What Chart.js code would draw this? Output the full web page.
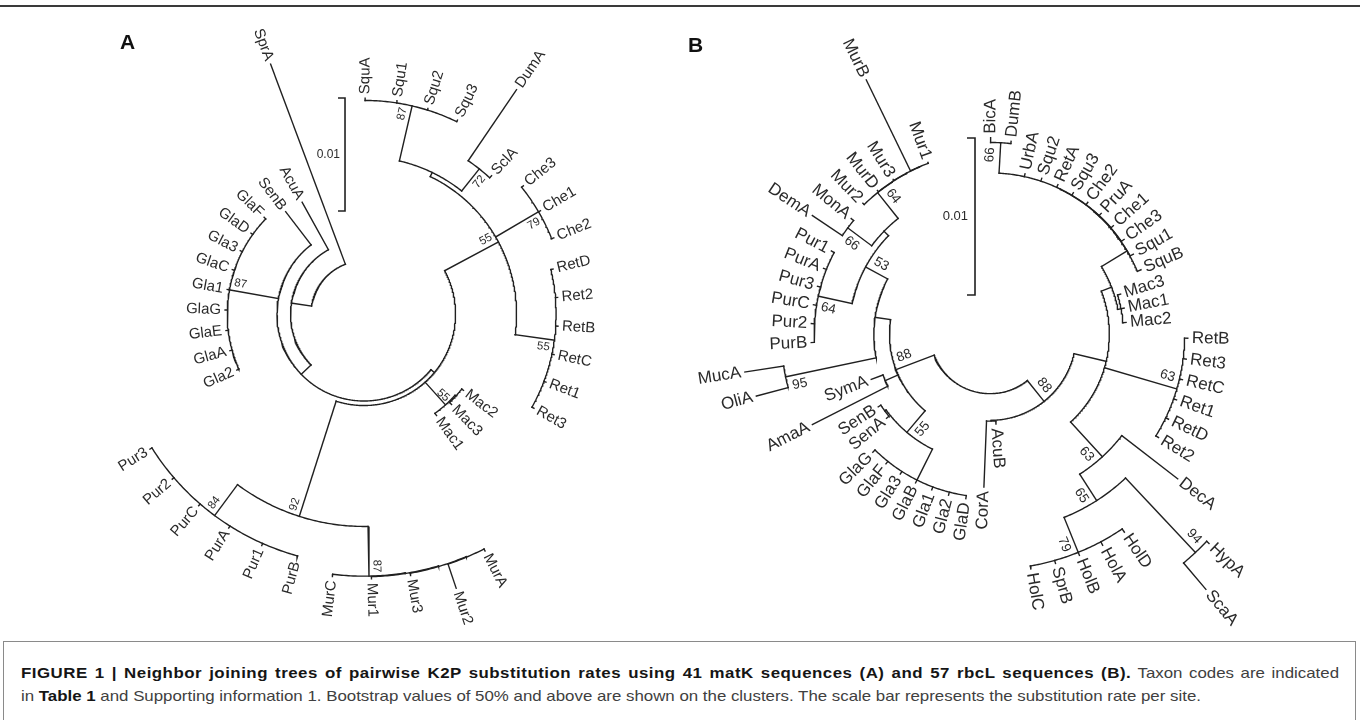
<!DOCTYPE html>
<html>
<head>
<meta charset="utf-8">
<title>Neighbor joining trees (matK / rbcL)</title>
<script src="https://cdn.jsdelivr.net/npm/chart.js@4.4.1/dist/chart.umd.min.js"></script>
<style>
  html, body { margin:0; padding:0; background:#fff; }
  body { width:1360px; height:720px; position:relative; overflow:hidden; font-family:"Liberation Sans", Arial, sans-serif; }
  #rule { position:absolute; left:0; top:5px; width:1360px; height:2px; background:#3a3a3a; }
  .panel { position:absolute; top:0; width:680px; height:640px; }
  #panelA { left:0; }
  #panelB { left:680px; }
  .tag { position:absolute; font-weight:bold; font-size:21px; color:#111; line-height:1; }
  #capbox { position:absolute; left:3px; top:641px; width:1351px; height:80px; border:1px solid #8a8a8a; border-bottom:none; }
  .cl { position:absolute; left:17px; white-space:nowrap; font-size:15px; line-height:1; color:#404040; transform-origin:0 50%; }
  .cl b { color:#151515; }
  #cap1 b { letter-spacing:0.45px; }
</style>
</head>
<body>
<div id="rule"></div>
<div class="panel" id="panelA"><canvas id="treeA" width="680" height="640"></canvas></div>
<div class="panel" id="panelB"><canvas id="treeB" width="680" height="640"></canvas></div>
<div class="tag" style="left:120px;top:31px;">A</div>
<div class="tag" style="left:688px;top:34px;">B</div>
<div id="capbox">
  <div class="cl" id="cap1" style="top:23px;"><b>FIGURE 1 | Neighbor joining trees of pairwise K2P substitution rates using 41 matK sequences (A) and 57 rbcL sequences (B).</b> Taxon codes are indicated</div>
  <div class="cl" id="cap2" style="top:46px;">in <b>Table 1</b> and Supporting information 1. Bootstrap values of 50% and above are shown on the clusters. The scale bar represents the substitution rate per site.</div>
</div>
<script>
// ======================= DATA =======================
// Distances are measured from the tree centre, in units of 0.001 substitutions per site.
const SCALE_BAR_VALUE = 0.01;

// ---- Tree A : 41 matK sequences (leaves in circular order) ----
const leavesA = ["SprA","AcuA","SenB","GlaF","GlaD","Gla3","GlaC","Gla1","GlaG","GlaE","GlaA","Gla2",
  "Pur3","Pur2","PurC","PurA","Pur1","PurB","MurC","Mur1","Mur3","Mur2","MurA","Mac1","Mac3","Mac2",
  "Ret3","Ret1","RetC","RetB","Ret2","RetD","Che2","Che1","Che3","SclA","DumA","Squ3","Squ2","Squ1","SquA"];
const leafParentA = ["r0","r1","r2","gla","gla","gla","gla","gla","gla","gla","gla","gla",
  "pur","pur","pur","pur","pur","pur","mur","mur1","mur2","mur3","mur3","mac","mac2","mac2",
  "ret","ret","ret","ret","ret","ret","che","che","che","d72","d72","squ","squ","squ","squ"];
const leafDistA = [23.6,11.3,11.4,12.3,12.3,12.3,12.3,12.3,12.3,12.3,12.3,12.3,
  22.4,22.4,22.4,22.4,22.4,22.4,23.4,23.45,23.5,25.6,23.55,11.05,11.15,11.1,
  17.2,17.2,17.2,17.2,17.2,17.2,18.1,18.1,18.1,16.65,24.0,19.05,19.05,19.1,19.1];
const nodesA      = ["r0","r1","r2","r3","gla","p92","pur","mur","mur1","mur2","mur3","mac","mac2","y","ret","che","x","d72","squ"];
const nodeParentA = [null,"r0","r1","r2","r2","r3","p92","p92","mur","mur1","mur2","r3","mac","r3","y","y","y","x","x"];
const nodeDistA   = [4.7,6.5,7.7,8.1,12.1,18.8,22.2,23.2,23.25,23.3,23.35,10.8,10.9,13.5,17.0,17.9,13.9,16.4,18.9];
const bootNodesA  = ["gla","p92","pur","mur","mac2","y","ret","che","d72","squ"];
const bootValuesA = [87,92,84,87,55,55,55,79,72,87];

// ---- Tree B : 57 rbcL sequences (leaves in circular order) ----
const leavesB = ["Mur1","MurB","Mur3","MurD","Mur2","MonA","DemA","Pur1","PurA","Pur3","PurC","Pur2","PurB",
  "MucA","OliA","SymA","AmaA","SenB","SenA","GlaG","GlaF","Gla3","GlaB","Gla1","Gla2","GlaD","CorA","AcuB",
  "HolC","SprB","HolB","HolA","HolD","ScaA","HypA","DecA","Ret2","RetD","Ret1","RetC","Ret3","RetB",
  "Mac2","Mac1","Mac3","SquB","Squ1","Che3","Che1","PruA","Che2","Squ3","RetA","Squ2","UrbA","DumB","BicA"];
const leafParentB = ["mur1n","mur1n","mur2n","mur3n","mur4","md66","md66","pur","pur","pur","pur","pur","pur",
  "n95","n95","sa","sa","sen","sen","gla","gla","gla","gla","gla","gla","gla","ca","ca",
  "hol","hol","hol","hol","hol","hs94","hs94","h63","ret","ret","ret","ret","ret","ret",
  "mac","mac","mac","u4","u3","u2","u1","u1","u1","u1","u1","u1","u1","bd66","bd66"];
const leafDistB = [11.62,18.0,11.62,11.62,11.62,11.5,13.6,11.4,11.4,11.4,11.4,11.4,11.4,
  15.8,15.4,8.1,12.7,8.5,8.5,10.6,10.6,10.6,10.6,10.6,10.6,10.6,9.75,5.75,
  15.2,15.2,15.2,15.25,15.25,21.3,19.3,15.1,12.6,12.6,12.6,12.6,12.6,12.6,
  8.7,8.7,8.7,10.45,10.45,10.45,10.45,10.45,10.45,10.45,10.45,10.45,10.45,12.35,12.5];
const nodesB      = ["root","l2","l1","n53b","n53a","mur4","mur3n","mur2n","mur1n","md66","pur","n95","sa","sg","sen","gla",
  "r88","ca","x350","h63","h65","hol","hs94","ret","m1","mac","u4","u3","u2","u1","bd66"];
const nodeParentB = [null,"root","l2","l1","n53b","n53a","mur4","mur3n","mur2n","n53a","n53b","l1","l2","l2","sg","sg",
  "root","r88","r88","x350","h63","h65","h65","x350","x350","m1","m1","u4","u3","u2","u1"];
const nodeDistB   = [3.8,6.4,7.4,9.0,9.4,11.5,11.52,11.54,11.56,11.3,11.2,13.3,7.3,8.2,8.3,10.4,
  5.5,5.55,7.6,10.6,12.6,15.0,19.1,12.4,8.3,8.5,10.2,10.22,10.24,10.26,12.2];
const bootNodesB  = ["l2","n53b","mur4","md66","pur","n95","sg","r88","h63","h65","hol","hs94","ret","bd66"];
const bootValuesB = [88,53,64,66,64,95,55,88,63,65,79,94,63,66];

// ======================= LAYOUT / STYLE =======================
const LINE = "#202020", TEXT = "#2a2a2a";
const styleA = {
  pxPerUnit: 11.3, centre: [364, 314], startDeg: 110.5, stepDeg: 8.48,
  leafFont: "15px 'Liberation Sans', Arial, sans-serif", bootFont: "11.5px 'Liberation Sans', Arial, sans-serif",
  barFont: "12px 'Liberation Sans', Arial, sans-serif", leafGap: 4, bootDr: 10, bootDt: 8, lw: 1.4,
  bar: { x: -1.68, yLow: 9.12, tickPx: 7, textGap: 5 },
  bootSide: { gla:-1, p92:-1, pur:-1, mur:1, mac2:-1, y:1, ret:-1, che:-1, d72:-1, squ:1 }
};
const styleB = {
  pxPerUnit: 15.7, centre: [310, 334], startDeg: 109.9, stepDeg: 6.07,
  leafFont: "17px 'Liberation Sans', Arial, sans-serif", bootFont: "13.5px 'Liberation Sans', Arial, sans-serif",
  barFont: "13px 'Liberation Sans', Arial, sans-serif", leafGap: 4, bootDr: 12.5, bootDt: 10, lw: 1.4,
  bar: { x: -0.955, yLow: 2.48, tickPx: 8, textGap: 7 },
  bootSide: { l2:-1, n53b:-1, mur4:-1, md66:1, pur:1, n95:1, sg:1, r88:1, h63:-1, h65:-1, hol:-1, hs94:1, ret:1, bd66:1 }
};
const CAPTION = { left: 20, lastLineWidth: 1180, fullWidth: 1318 };

// ======================= BUILD =======================
const D2R = Math.PI / 180;
function layoutTree(leaves, leafParent, leafDist, nodes, nodeParent, nodeDist, startDeg, stepDeg) {
  const ang = {}, dist = {}, parent = {}, kids = {};
  nodes.forEach((n, i) => { dist[n] = nodeDist[i]; parent[n] = nodeParent[i]; kids[n] = []; });
  leaves.forEach((n, i) => { ang[n] = startDeg + i * stepDeg; dist[n] = leafDist[i]; parent[n] = leafParent[i]; });
  [...nodes, ...leaves].forEach(n => { if (parent[n]) kids[parent[n]].push(n); });
  const angleOf = n => {
    if (ang[n] === undefined) {
      const a = kids[n].map(angleOf);
      ang[n] = (Math.min(...a) + Math.max(...a)) / 2;
    }
    return ang[n];
  };
  nodes.forEach(angleOf);
  const pt = (r, a) => ({ x: r * Math.cos(a * D2R), y: r * Math.sin(a * D2R) });
  const paths = [];
  nodes.forEach(n => {
    const a = kids[n].map(k => ang[k]);
    const lo = Math.min(...a), hi = Math.max(...a);
    const steps = Math.max(2, Math.ceil((hi - lo) / 0.5));
    const p = [];
    for (let k = 0; k <= steps; k++) p.push(pt(dist[n], lo + (hi - lo) * k / steps));
    paths.push(p);
  });
  [...nodes, ...leaves].forEach(n => {
    if (parent[n]) paths.push([pt(dist[parent[n]], ang[n]), pt(dist[n], ang[n])]);
  });
  return { ang, dist, paths, leaves };
}

function radialText(ctx, text, x, y, angDeg, align) {
  const a = angDeg * D2R;
  const left = Math.cos(a) < 0;
  ctx.save();
  ctx.translate(x, y);
  ctx.rotate(left ? Math.PI - a : -a);
  ctx.textAlign = align === 'center' ? 'center' : (left ? 'right' : 'left');
  ctx.textBaseline = 'middle';
  ctx.fillText(text, 0, 0);
  ctx.restore();
}

const treeText = {
  id: 'treeText',
  afterDatasetsDraw(chart, args, o) {
    const { tree, style, bootNodes, bootValues } = o;
    const ctx = chart.ctx, xs = chart.scales.x, ys = chart.scales.y;
    const toPx = (r, aDeg) => [xs.getPixelForValue(r * Math.cos(aDeg * D2R)), ys.getPixelForValue(r * Math.sin(aDeg * D2R))];
    ctx.save();
    ctx.fillStyle = TEXT;
    ctx.font = style.leafFont;
    tree.leaves.forEach(name => {
      const a = tree.ang[name];
      const [x, y] = toPx(tree.dist[name], a);
      const c = Math.cos(a * D2R), s = Math.sin(a * D2R);
      radialText(ctx, name, x + style.leafGap * c, y - style.leafGap * s, a, 'tip');
    });
    ctx.font = style.bootFont;
    bootNodes.forEach((n, i) => {
      const a = tree.ang[n];
      const [x, y] = toPx(tree.dist[n], a);
      const c = Math.cos(a * D2R), s = Math.sin(a * D2R);
      const side = style.bootSide[n] || -1;
      const bx = x - style.bootDr * c + side * style.bootDt * (-s);
      const by = y + style.bootDr * s + side * style.bootDt * (-c);
      radialText(ctx, String(bootValues[i]), bx, by, a, 'center');
    });
    const b = style.bar, len = SCALE_BAR_VALUE * 1000;
    ctx.font = style.barFont;
    ctx.textAlign = 'right';
    ctx.textBaseline = 'middle';
    ctx.fillText(String(SCALE_BAR_VALUE), xs.getPixelForValue(b.x) - b.textGap, ys.getPixelForValue(b.yLow + len / 2));
    ctx.restore();
  }
};

function makeChart(id, tree, style, bootNodes, bootValues) {
  const W = 680, H = 640, k = style.pxPerUnit, [cx, cy] = style.centre;
  const view = { xMin: -cx / k, xMax: (W - cx) / k, yMin: -(H - cy) / k, yMax: cy / k };
  const base = { showLine: true, borderColor: LINE, borderWidth: style.lw, pointRadius: 0, pointHoverRadius: 0,
                 borderCapStyle: 'square', borderJoinStyle: 'miter', fill: false, tension: 0, clip: false };
  const datasets = tree.paths.map(p => Object.assign({ data: p }, base));
  const b = style.bar, len = SCALE_BAR_VALUE * 1000, t = b.tickPx / k;
  datasets.push(Object.assign({ data: [
    { x: b.x - t, y: b.yLow + len }, { x: b.x, y: b.yLow + len }, { x: b.x, y: b.yLow }, { x: b.x - t, y: b.yLow }
  ] }, base, { borderCapStyle: 'butt', borderWidth: style.lw + 0.2 }));
  return new Chart(document.getElementById(id), {
    type: 'scatter',
    data: { datasets },
    options: {
      responsive: false, maintainAspectRatio: false, animation: false, devicePixelRatio: 1, events: [],
      layout: { padding: 0 },
      scales: {
        x: { type: 'linear', display: false, min: view.xMin, max: view.xMax },
        y: { type: 'linear', display: false, min: view.yMin, max: view.yMax }
      },
      plugins: { legend: { display: false }, tooltip: { enabled: false },
                 treeText: { tree, style, bootNodes, bootValues } }
    },
    plugins: [treeText]
  });
}

const treeA = layoutTree(leavesA, leafParentA, leafDistA, nodesA, nodeParentA, nodeDistA, styleA.startDeg, styleA.stepDeg);
const treeB = layoutTree(leavesB, leafParentB, leafDistB, nodesB, nodeParentB, nodeDistB, styleB.startDeg, styleB.stepDeg);
makeChart('treeA', treeA, styleA, bootNodesA, bootValuesA);
makeChart('treeB', treeB, styleB, bootNodesB, bootValuesB);

// caption: justified paragraph (first line spread to full width, last line natural)
(function () {
  const c1 = document.getElementById('cap1'), c2 = document.getElementById('cap2');
  c1.style.left = c2.style.left = (CAPTION.left - 3) + 'px';
  const s = CAPTION.lastLineWidth / c2.getBoundingClientRect().width;
  const w1 = c1.getBoundingClientRect().width;
  const spaces = (c1.textContent.match(/ /g) || []).length;
  const ws = Math.max(0, (CAPTION.fullWidth / s - w1) / spaces);
  c1.style.wordSpacing = ws.toFixed(2) + 'px';
  c1.style.transform = c2.style.transform = 'scaleX(' + s.toFixed(4) + ')';
})();
</script>
</body>
</html>
